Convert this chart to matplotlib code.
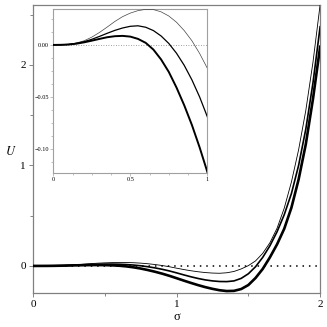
import numpy as np
import matplotlib
matplotlib.use("Agg")
import matplotlib.pyplot as plt
from matplotlib.ticker import MultipleLocator

# sigma grid, step 0.05
sigma = [0.00, 0.05, 0.10, 0.15, 0.20, 0.25, 0.30, 0.35, 0.40, 0.45,
         0.50, 0.55, 0.60, 0.65, 0.70, 0.75, 0.80, 0.85, 0.90, 0.95,
         1.00, 1.05, 1.10, 1.15, 1.20, 1.25, 1.30, 1.35, 1.40, 1.45,
         1.50, 1.55, 1.60, 1.65, 1.70, 1.75, 1.80, 1.85, 1.90, 1.95, 2.00]

# thin curve (top)
u_thin = [0.0, 0.0001, 0.0006, 0.0019, 0.0040, 0.0075, 0.0120, 0.0172, 0.0226, 0.0272,
          0.0306, 0.0330, 0.0342, 0.0340, 0.0318, 0.0278, 0.0218, 0.0138, 0.0040, -0.0082,
          -0.0224, -0.036, -0.048, -0.058, -0.066, -0.071, -0.073, -0.068, -0.055, -0.030,
          0.003, 0.050, 0.125, 0.230, 0.375, 0.575, 0.835, 1.155, 1.545, 2.025, 2.60]

# medium curve
u_mid = [0.0, 0.0001, 0.0005, 0.0015, 0.0031, 0.0054, 0.0082, 0.0112, 0.0140, 0.0163,
         0.0179, 0.0184, 0.0170, 0.0138, 0.0086, 0.0014, -0.0080, -0.0196, -0.0336, -0.0500,
         -0.069, -0.089, -0.108, -0.125, -0.139, -0.149, -0.155, -0.156, -0.149, -0.124,
         -0.078, -0.008, 0.085, 0.200, 0.340, 0.510, 0.720, 1.000, 1.360, 1.820, 2.38]

# thick curve (bottom)
u_thick = [0.0, 0.0001, 0.0004, 0.0012, 0.0025, 0.0041, 0.0058, 0.0074, 0.0084, 0.0087,
           0.0080, 0.0058, 0.0020, -0.0045, -0.0140, -0.0260, -0.0410, -0.0580, -0.0770, -0.0985,
           -0.122, -0.146, -0.169, -0.191, -0.211, -0.228, -0.242, -0.250, -0.248, -0.230,
           -0.190, -0.120, -0.030, 0.085, 0.215, 0.370, 0.580, 0.860, 1.210, 1.660, 2.18]

main_xticks = [0, 1, 2]
main_yticks = [0, 1, 2]
inset_xticks = [0, 0.5, 1]
inset_xlabels = ["0", "0.5", "1"]
inset_yticks = [0.0, -0.05, -0.10]
inset_ylabels = ["0.00", "\u22120.05", "\u22120.10"]

plt.rcParams['font.family'] = ['Liberation Serif', 'DejaVu Serif']
plt.rcParams['mathtext.fontset'] = 'stix'

fig = plt.figure(figsize=(3.27, 3.27), dpi=100)
ax = fig.add_axes([0.101, 0.105, 0.878, 0.881])

x = np.array(sigma)
ax.axhline(0, color='black', lw=1.1, ls=(0, (1, 3.2)), zorder=1)
ax.plot(x, u_thin, color='black', lw=0.6, zorder=3)
ax.plot(x, u_mid, color='black', lw=1.2, zorder=3)
ax.plot(x, u_thick, color='black', lw=1.9, zorder=3)
ax.set_xlim(0, 2)
ax.set_ylim(-0.266, 2.6)
ax.set_xticks(main_xticks)
ax.set_yticks(main_yticks)
ax.xaxis.set_minor_locator(MultipleLocator(0.5))
ax.yaxis.set_minor_locator(MultipleLocator(0.5))
ax.tick_params(which='both', direction='out', color='#707070', width=0.6,
               labelsize=8, pad=2, top=False, right=False)
ax.tick_params(which='major', length=3)
ax.tick_params(which='minor', length=2)
for s in ax.spines.values():
    s.set_color('#808080')
    s.set_linewidth(0.9)
ax.text(-0.077, 0.489, "$U$", transform=ax.transAxes, fontsize=9,
        ha='center', va='center')
ax.text(0.5, -0.085, "\u03c3", transform=ax.transAxes, fontsize=9,
        ha='center', va='center')

# inset
ins = fig.add_axes([0.163, 0.472, 0.471, 0.4997])
ins.axhline(0, color='#808080', lw=0.6, ls=(0, (1, 2)), zorder=1)
ins.plot(x, u_thin, color='#444444', lw=0.5, zorder=3)
ins.plot(x, u_mid, color='black', lw=0.9, zorder=3)
ins.plot(x, u_thick, color='black', lw=1.4, zorder=3)
ins.set_xlim(0, 1)
ins.set_ylim(-0.1228, 0.0343)
ins.set_xticks(inset_xticks)
ins.set_xticklabels(inset_xlabels)
ins.set_yticks(inset_yticks)
ins.set_yticklabels(inset_ylabels)
ins.xaxis.set_minor_locator(MultipleLocator(0.125))
ins.yaxis.set_minor_locator(MultipleLocator(0.0125))
ins.tick_params(which='both', direction='out', color='#909090', width=0.4,
                labelsize=4.5, pad=1.2, top=False, right=False)
ins.tick_params(which='major', length=2)
ins.tick_params(which='minor', length=1.3)
for s in ins.spines.values():
    s.set_color('#a0a0a0')
    s.set_linewidth(0.8)

fig.savefig("out.png", dpi=100)
